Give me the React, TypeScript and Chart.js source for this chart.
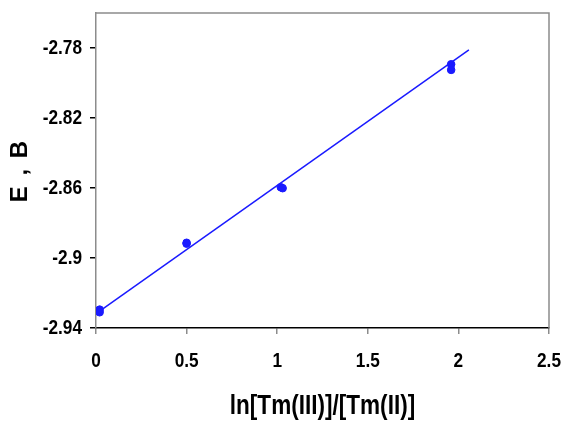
import React, { useEffect, useRef } from "react";
import { Chart, registerables } from "chart.js";

Chart.register(...registerables);

const pointX = [0.02, 0.02, 0.5, 0.5, 1.02, 1.03, 1.96, 1.96];
const pointY = [-2.9295, -2.931, -2.8913, -2.8918, -2.8596, -2.8601, -2.7893, -2.7925];
const fitX = [0.02, 2.058];
const fitY = [-2.9303, -2.7811];
const xTicks = [0, 0.5, 1, 1.5, 2, 2.5];
const yTicks = [-2.94, -2.9, -2.86, -2.82, -2.78];
const xTitle = "ln[Tm(III)]/[Tm(II)]";
const yTitle = "E , B";

const FONT = "'Liberation Sans', Arial, sans-serif";
const fmt = (v: number) => String(Number(v.toFixed(2)));

const framePlugin = {
  id: "frame",
  beforeDatasetsDraw(chart: any) {
    const { ctx, chartArea } = chart;
    ctx.save();
    ctx.strokeStyle = "#8c8c8c";
    ctx.lineWidth = 1.5;
    ctx.beginPath();
    ctx.moveTo(chartArea.left, chartArea.top);
    ctx.lineTo(chartArea.right, chartArea.top);
    ctx.lineTo(chartArea.right, chartArea.bottom);
    ctx.stroke();
    ctx.restore();
  },
};

// Draws tick labels and titles in a horizontally condensed bold face.
const labelPlugin = {
  id: "narrowLabels",
  afterDraw(chart: any) {
    const { ctx, chartArea } = chart;
    const xs = chart.scales.x;
    const ys = chart.scales.y;
    const draw = (
      text: string,
      cx: number,
      cy: number,
      size: number,
      align: CanvasTextAlign,
      sx: number,
      rot = 0,
      spacing = "0px"
    ) => {
      ctx.save();
      ctx.translate(cx, cy);
      if (rot) ctx.rotate(rot);
      ctx.scale(sx, 1);
      ctx.font = `bold ${size}px ${FONT}`;
      (ctx as any).letterSpacing = spacing;
      ctx.fillStyle = "#000";
      ctx.textAlign = align;
      ctx.textBaseline = "middle";
      ctx.fillText(text, 0, 0);
      ctx.restore();
    };
    yTicks.forEach((v) => draw(fmt(v), 82, ys.getPixelForValue(v), 21, "right", 0.82));
    xTicks.forEach((v) => draw(fmt(v), xs.getPixelForValue(v), 361, 21, "center", 0.82));
    draw(xTitle, (chartArea.left + chartArea.right) / 2, 406, 27.5, "center", 0.82);
    draw(yTitle, 20, (chartArea.top + chartArea.bottom) / 2, 24, "center", 1, -Math.PI / 2, "2px");
  },
};

export default function App() {
  const ref = useRef<HTMLCanvasElement>(null);
  useEffect(() => {
    document.body.style.margin = "0";
    const chart = new Chart(ref.current!, {
      type: "scatter",
      data: {
        datasets: [
          {
            type: "line",
            data: fitX.map((x, i) => ({ x, y: fitY[i] })),
            borderColor: "#1a1aff",
            borderWidth: 1.5,
            pointRadius: 0,
            fill: false,
            order: 2,
          } as any,
          {
            data: pointX.map((x, i) => ({ x, y: pointY[i] })),
            backgroundColor: "#1a1aff",
            borderColor: "#1a1aff",
            pointRadius: 3.8,
            order: 1,
          },
        ],
      },
      options: {
        responsive: false,
        animation: false,
        layout: { padding: { top: 13, right: 13, left: 0, bottom: 0 } },
        plugins: { legend: { display: false }, tooltip: { enabled: false } },
        scales: {
          x: {
            type: "linear",
            min: 0,
            max: 2.5,
            afterBuildTicks: (s: any) => {
              s.ticks = xTicks.map((v) => ({ value: v }));
            },
            ticks: { display: false },
            grid: { drawOnChartArea: false, drawTicks: true, tickLength: 6, color: "#8c8c8c", lineWidth: 1.5 },
            border: { display: true, color: "#000", width: 1.5 },
            afterFit: (s: any) => {
              s.height = 95;
              s.paddingLeft = 0;
              s.paddingRight = 0;
            },
          },
          y: {
            type: "linear",
            min: -2.94,
            max: -2.76,
            afterBuildTicks: (s: any) => {
              s.ticks = yTicks.map((v) => ({ value: v }));
            },
            ticks: { display: false },
            grid: { drawOnChartArea: false, drawTicks: true, tickLength: 6, color: "#000", lineWidth: 1.5 },
            border: { display: true, color: "#8c8c8c", width: 1.5 },
            afterFit: (s: any) => {
              s.width = 96;
              s.paddingTop = 0;
              s.paddingBottom = 0;
            },
          },
        },
      },
      plugins: [framePlugin, labelPlugin],
    });
    return () => chart.destroy();
  }, []);
  return (
    <div style={{ position: "fixed", left: 0, top: 0, width: 562, height: 423, background: "#fff" }}>
      <canvas ref={ref} width={562} height={423} />
    </div>
  );
}
